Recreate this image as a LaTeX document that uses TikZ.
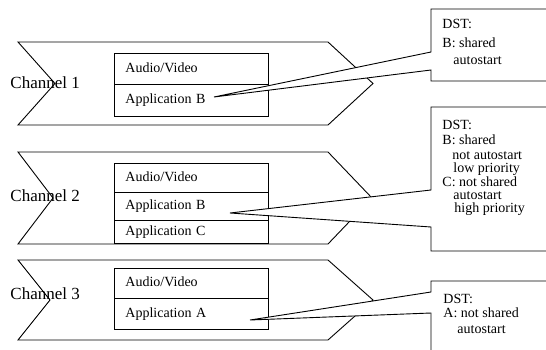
\documentclass[tikz,border=0pt]{standalone}
\usepackage{fontspec}
\setmainfont{Liberation Serif}
\begin{document}
\begin{tikzpicture}[x=1pt,y=-1pt, line width=0.9pt,
  chev/.style={draw, line join=miter},
  cell/.style={draw, fill=white, minimum width=154pt, text width=132pt, inner xsep=11pt, inner ysep=0pt,
    align=left, anchor=north west, font=\fontsize{14}{16}\selectfont, text height=9.5pt, text depth=3pt},
  chan/.style={anchor=base west, inner sep=0pt, font=\fontsize{17}{20}\selectfont},
  dst/.style={anchor=base west, inner sep=0pt, font=\fontsize{14}{16}\selectfont},
  callout/.style={draw, fill=white, line join=miter}]
\useasboundingbox (0,0) rectangle (546,350);
\clip (0,0) rectangle (546,350);
\fill[white] (0,0) rectangle (546,350);

% channel labels
\node[chan] (ch1) at (10,89) {Channel 1};
\node[chan] (ch2) at (10,201) {Channel 2};
\node[chan] (ch3) at (10,299) {Channel 3};

% chevrons
\draw[chev] (18,42) -- (328,42) -- (373,83.5) -- (328,125) -- (18,125) -- (55,83.5) -- cycle;
\draw[chev] (18,152) -- (328,152) -- (372,198) -- (328,244) -- (18,244) -- (53,198) -- cycle;
\draw[chev] (18,260) -- (328,260) -- (373,300) -- (328,340) -- (18,340) -- (50,300) -- cycle;

% boxes
\node[cell, minimum height=31pt] (av1) at (114,53) {Audio/Video};
\node[cell, minimum height=32pt] (ab1) at (114,84) {Application B};

\node[cell, minimum height=29pt] (av2) at (114,163) {Audio/Video};
\node[cell, minimum height=28pt] (ab2) at (114,192) {Application B};
\node[cell, minimum height=23pt] (ac2) at (114,220) {Application C};

\node[cell, minimum height=30pt] (av3) at (114,268) {Audio/Video};
\node[cell, minimum height=31pt] (aa3) at (114,298) {Application A};

% callouts
\coordinate (tip1) at (214,97);
\coordinate (tip2) at (230,213);
\coordinate (tip3) at (250,320);
\path[callout] (tip1) -- (431,52) -- (431,9) -- (560,9) -- (560,81) -- (431,81) -- (431,70) -- cycle;
\path[callout] (tip2) -- (431,190) -- (431,107) -- (560,107) -- (560,251) -- (431,251) -- (431,227) -- cycle;
\path[callout] (tip3) -- (431,292) -- (431,281) -- (560,281) -- (560,370) -- (431,370) -- (431,313) -- cycle;

% callout texts
\node[dst] (d1a) at (442,29) {DST:};
\node[dst] (d1b) at (442,47.5) {B: shared};
\node[dst] (d1c) at (453,64.5) {autostart};

\node[dst] (d2a) at (442,130) {DST:};
\node[dst] (d2b) at (442,145) {B: shared};
\node[dst] (d2c) at (452,159) {not autostart};
\node[dst] (d2d) at (453,172.5) {low priority};
\node[dst] (d2e) at (442,186) {C: not shared};
\node[dst] (d2f) at (453,199) {autostart};
\node[dst] (d2g) at (454,212.5) {high priority};

\node[dst] (d3a) at (443,303.5) {DST:};
\node[dst] (d3b) at (443,317.5) {A: not shared};
\node[dst] (d3c) at (457,333.5) {autostart};
\end{tikzpicture}
\end{document}
